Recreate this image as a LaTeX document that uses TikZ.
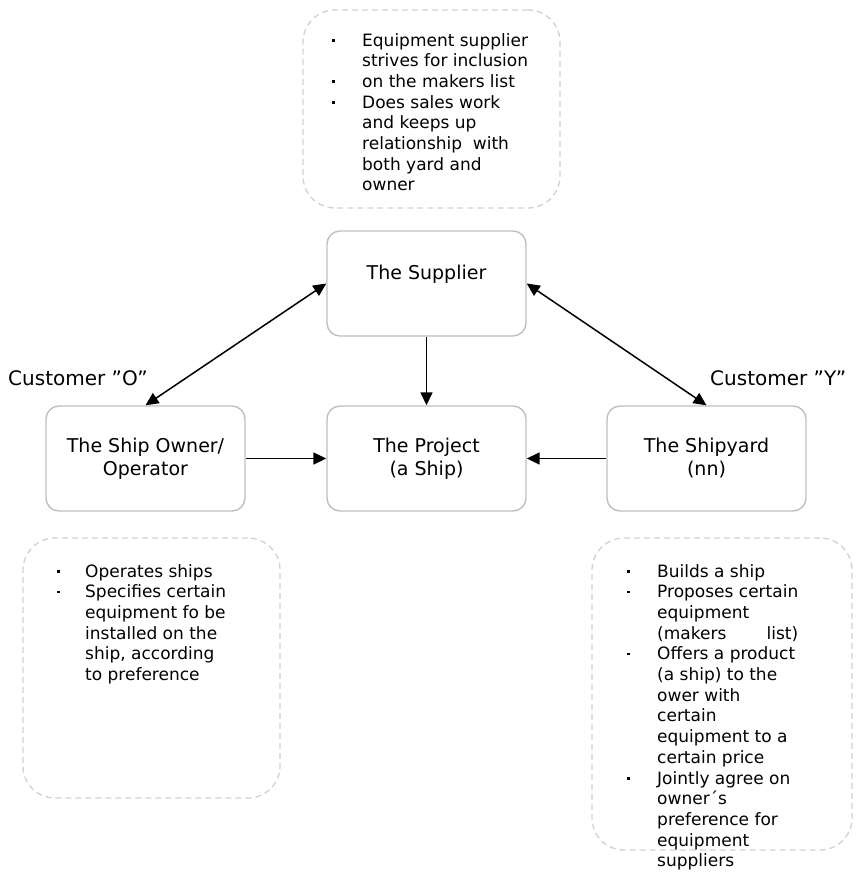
\documentclass[tikz,border=0pt]{standalone}
\usepackage{fontspec}
\setmainfont{DejaVu Sans}
\usetikzlibrary{arrows.meta}
\newcommand{\notefont}{\fontsize{17}{20.7}\selectfont}
\newcommand{\boxfont}{\fontsize{19}{23}\selectfont}
\newcommand{\itm}{\rule[4.5pt]{2.6pt}{2.6pt}}
\begin{document}
\begin{tikzpicture}[x=1pt, y=-1pt,
    party/.style={draw=black!25, line width=1.4pt, rounded corners=13pt,
      minimum width=199pt, minimum height=105pt, align=center, font=\boxfont},
    notebox/.style={draw=black!18, line width=1.3pt, dash pattern=on 6pt off 4pt,
      rounded corners=32pt},
    notetext/.style={anchor=base west, inner sep=0pt, font=\notefont},
    customer/.style={anchor=base west, inner sep=0pt, font=\fontsize{20}{24}\selectfont},
    link/.style={line width=1.5pt, -{Triangle[length=13pt,width=12pt]}},
    both/.style={line width=1.5pt, {Triangle[length=13pt,width=12pt]}-{Triangle[length=13pt,width=12pt]}}]
    \useasboundingbox (0,0) rectangle (857,873);

    % the four parties
    \node[party] (sup)  at (426.5,283.5) {The Supplier\\ \mbox{}};
    \node[party] (own)  at (145.5,458.5) {The Ship Owner/\\Operator};
    \node[party] (proj) at (426.5,458.5) {The Project\\(a Ship)};
    \node[party] (yard) at (706.5,458.5) {The Shipyard\\(nn)};

    \node[customer] (custo) at (8,385)   {Customer ”O”};
    \node[customer] (custy) at (710,385) {Customer ”Y”};

    \path [both] (sup.west) edge (own.north);
    \path [both] (sup.east) edge (yard.north);
    \path [link] (sup) edge (proj);
    \path [link] (own) edge (proj);
    \path [link] (yard) edge (proj);

    % dashed notes
    \node[notebox, minimum width=257pt, minimum height=198pt] (nsup)  at (431.5,109) {};
    \node[notebox, minimum width=257pt, minimum height=260pt] (nown)  at (151.5,668) {};
    \node[notebox, minimum width=260pt, minimum height=312pt] (nyard) at (722,694) {};

    \node[notetext] (tsup) at (332,46) {%
      \begin{tabular}[t]{@{}p{30pt}@{}l@{}}
        \itm & Equipment supplier\\
             & strives for inclusion\\
        \itm & on the makers list\\
        \itm & Does sales work\\
             & and keeps up\\
             & relationship\ \ with\\
             & both yard and\\
             & owner
      \end{tabular}};

    \node[notetext] (town) at (57,577) {%
      \begin{tabular}[t]{@{}p{28pt}@{}l@{}}
        \itm & Operates ships\\
        \itm & Specifies certain\\
             & equipment fo be\\
             & installed on the\\
             & ship, according\\
             & to preference
      \end{tabular}};

    \node[notetext] (tyard) at (627,577) {%
      \begin{tabular}[t]{@{}p{30pt}@{}l@{}}
        \itm & Builds a ship\\
        \itm & Proposes certain\\
             & equipment\\
             & \makebox[141pt][l]{(makers\hfill list)}\\
        \itm & Offers a product\\
             & (a ship) to the\\
             & ower with\\
             & certain\\
             & equipment to a\\
             & certain price\\
        \itm & Jointly agree on\\
             & owner´s\\
             & preference for\\
             & equipment\\
             & suppliers
      \end{tabular}};
\end{tikzpicture}
\end{document}
